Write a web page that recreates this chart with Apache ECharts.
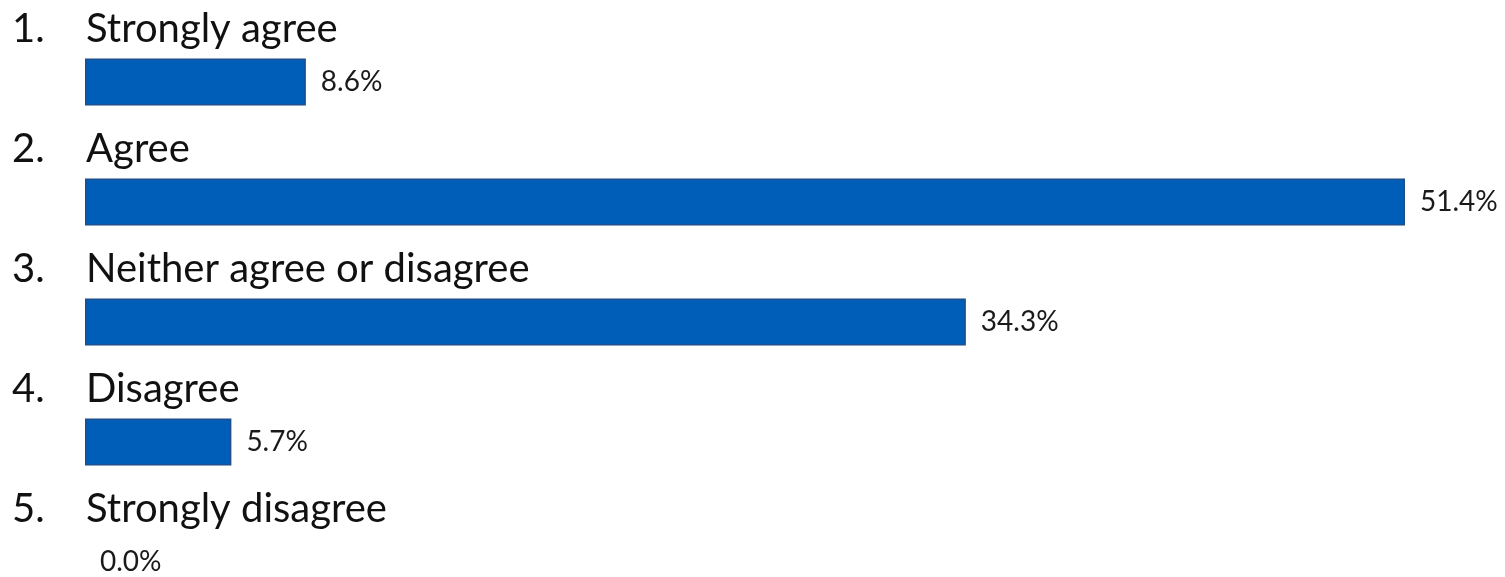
<!DOCTYPE html>
<html>
<head>
<meta charset="utf-8">
<script src="https://cdn.jsdelivr.net/npm/echarts@6/dist/echarts.min.js"></script>
<style>html,body{margin:0;padding:0;background:#fff;}#c{width:1505px;height:577px;}</style>
</head>
<body>
<div id="c"></div>
<script>
const categories = ['Strongly agree', 'Agree', 'Neither agree or disagree', 'Disagree', 'Strongly disagree'];
const numbers = ['1.', '2.', '3.', '4.', '5.'];
const values = [8.6, 51.4, 34.3, 5.7, 0.0];

const barData = values.map(v => ({
  value: v,
  itemStyle: v === 0 ? { borderWidth: 0 } : {}
}));

const chart = echarts.init(document.getElementById('c'));
chart.setOption({
  animation: false,
  backgroundColor: '#ffffff',
  grid: { left: 85, width: 1320, top: 82, height: 480 },
  xAxis: { type: 'value', min: 0, max: 51.4, show: false },
  yAxis: { type: 'category', data: categories, inverse: true, boundaryGap: false, show: false },
  series: [
    {
      type: 'bar',
      data: barData,
      barWidth: 47,
      itemStyle: { color: '#005EB8', borderColor: '#1D4F8C', borderWidth: 1.5 },
      label: {
        show: true, position: 'right', distance: 15,
        fontFamily: 'Lato', fontSize: 28, color: '#1a1a1a',
        formatter: p => p.value.toFixed(1) + '%'
      }
    },
    {
      type: 'bar',
      data: values,
      barWidth: 47,
      barGap: '-100%',
      itemStyle: { color: 'rgba(0,0,0,0)' },
      silent: true,
      label: {
        show: true,
        position: [-73, -29],
        align: 'left', verticalAlign: 'middle',
        formatter: p => '{n|' + numbers[p.dataIndex] + '}{t|' + categories[p.dataIndex] + '}',
        rich: {
          n: { fontFamily: 'Lato', fontSize: 40, color: '#111', width: 74 },
          t: { fontFamily: 'Lato', fontSize: 40, color: '#111' }
        }
      }
    }
  ]
});
</script>
</body>
</html>
